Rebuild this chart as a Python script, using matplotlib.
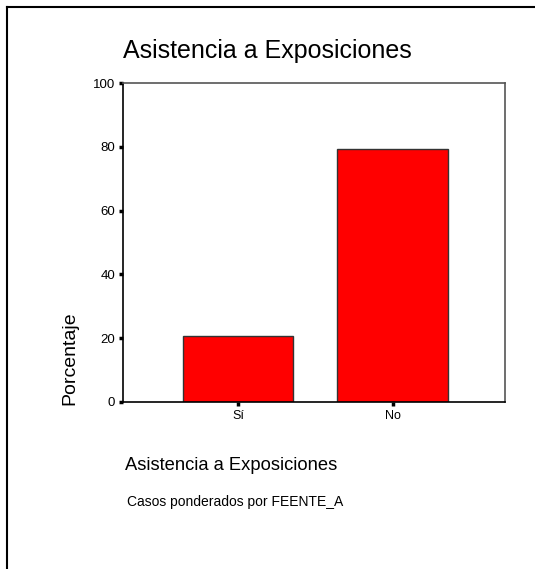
import matplotlib
matplotlib.use('Agg')
import matplotlib.pyplot as plt
from matplotlib.lines import Line2D

categorias = ['Sí', 'No']
porcentajes = [20.6, 79.4]
yticks = [0, 20, 40, 60, 80, 100]

plt.rcParams['font.family'] = ['Liberation Sans', 'DejaVu Sans']

fig = plt.figure(figsize=(5.35, 5.69), dpi=100)
ax = fig.add_axes([123/535, 167/569, 382/535, 319/569])

pos = list(range(len(categorias)))
ax.bar(pos, porcentajes, width=0.716, color='#ff0000', edgecolor='#333333', linewidth=1.0)

ax.set_xlim(-0.742, 1.723)
ax.set_ylim(0, 100)
ax.set_xticks(pos)
ax.set_xticklabels(categorias, fontsize=9)
ax.set_yticks(yticks)
ax.set_yticklabels([str(v) for v in yticks], fontsize=9.5)
ax.tick_params(direction='out', length=2.7, width=2.5, color='black', pad=3)

for s in ['left', 'bottom']:
    ax.spines[s].set_color('black')
    ax.spines[s].set_linewidth(1.2)
for s in ['top', 'right']:
    ax.spines[s].set_color('#555555')
    ax.spines[s].set_linewidth(1.2)

fig.text(267/535, 1 - 51/569, 'Asistencia a Exposiciones', fontsize=18,
         ha='center', va='center')
fig.text(70/535, 1 - 358/569, 'Porcentaje', fontsize=14, rotation=90,
         ha='center', va='center')
fig.text(125/535, 1 - 465/569, 'Asistencia a Exposiciones', fontsize=13.2,
         ha='left', va='center')
fig.text(127/535, 1 - 502/569, 'Casos ponderados por FEENTE_A', fontsize=10,
         ha='left', va='center')

# marco exterior
fig.add_artist(Line2D([7/535, 7/535], [0, 1 - 7/569], color='black', lw=1.5,
                      transform=fig.transFigure))
fig.add_artist(Line2D([7/535, 1], [1 - 7/569, 1 - 7/569], color='black', lw=1.5,
                      transform=fig.transFigure))

fig.savefig('out.png', dpi=100)
